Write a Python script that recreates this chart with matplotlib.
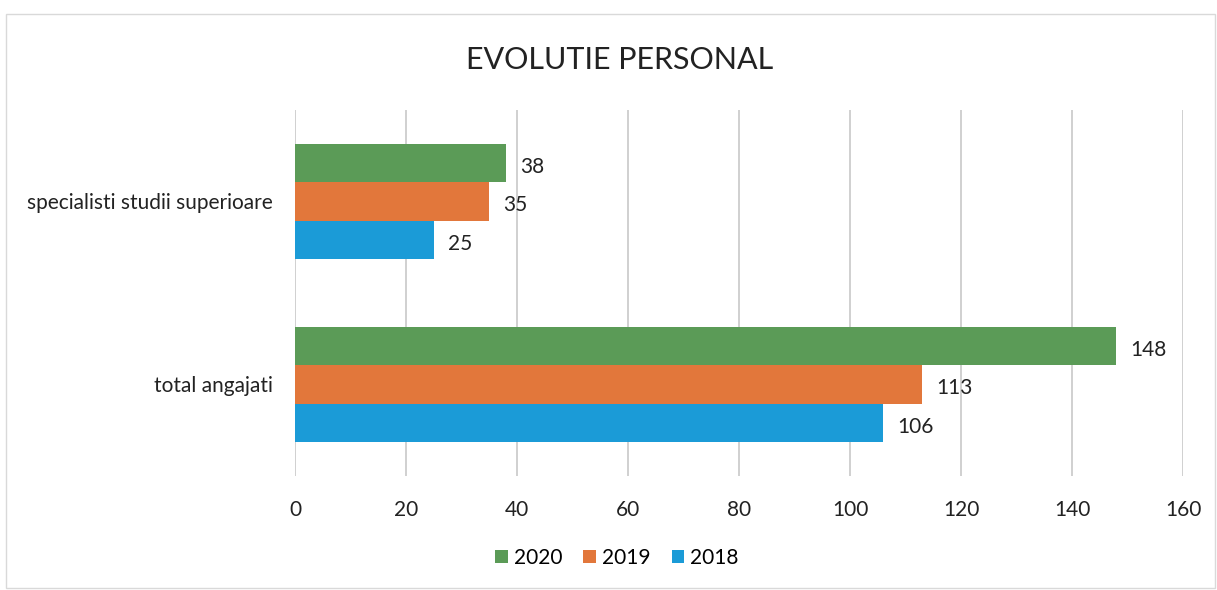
import matplotlib
matplotlib.use("Agg")
import matplotlib.pyplot as plt
from matplotlib.patches import Rectangle
import numpy as np

plt.rcParams['font.family'] = ['Lato', 'DejaVu Sans']

categories = ["total angajati", "specialisti studii superioare"]
years = ["2018", "2019", "2020"]
values_2018 = [106, 25]
values_2019 = [113, 35]
values_2020 = [148, 38]
colors = {"2018": "#1b9bd7", "2019": "#e2773b", "2020": "#5b9b57"}
x_ticks = [0, 20, 40, 60, 80, 100, 120, 140, 160]

W, H = 1217, 590
fig = plt.figure(figsize=(W / 100, H / 100), dpi=100)
fig.patch.set_facecolor("white")

left, right = 295 / W, 1183 / W
top, bottom = 1 - 110 / H, 1 - 476 / H
ax = fig.add_axes([left, bottom, right - left, top - bottom])

y = np.arange(len(categories))
h = 0.21
series = [("2018", values_2018, -h), ("2019", values_2019, 0), ("2020", values_2020, h)]
for name, vals, off in series:
    bars = ax.barh(y + off, vals, height=h, color=colors[name], label=name, zorder=3)
    for b, v in zip(bars, vals):
        ax.text(v + 2.5, b.get_y() + b.get_height() / 2 - 0.02, str(v),
                va="center", ha="left", fontsize=15, color="#222222")

ax.set_xlim(0, 160)
ax.set_ylim(-0.5, 1.5)
ax.set_xticks(x_ticks)
ax.set_xticklabels([str(t) for t in x_ticks], fontsize=15, color="#222222")
ax.set_yticks(y)
ax.set_yticklabels(categories, fontsize=15, color="#222222")
ax.tick_params(axis="x", length=0, pad=17)
ax.tick_params(axis="y", length=0, pad=16)
ax.grid(axis="x", color="#c8c8c8", linewidth=1.2, zorder=0)
for s in ax.spines.values():
    s.set_visible(False)

fig.text(620 / W, 1 - 60 / H, "EVOLUTIE PERSONAL", ha="center", va="center",
         fontsize=22, color="#222222")

handles, labels = ax.get_legend_handles_labels()
order = [2, 1, 0]
fig.legend([handles[i] for i in order], [labels[i] for i in order],
           loc="center", bbox_to_anchor=(617 / W, 1 - 558 / H), ncol=3,
           frameon=False, fontsize=15, handlelength=0.6, handleheight=0.6,
           handletextpad=0.3, columnspacing=1.0)

fig.add_artist(Rectangle((6 / W, 2 / H), 1 - 8 / W, 1 - 16 / H, transform=fig.transFigure,
                         fill=False, edgecolor="#d9d9d9", linewidth=1.0))

fig.savefig("out.png", dpi=100)
